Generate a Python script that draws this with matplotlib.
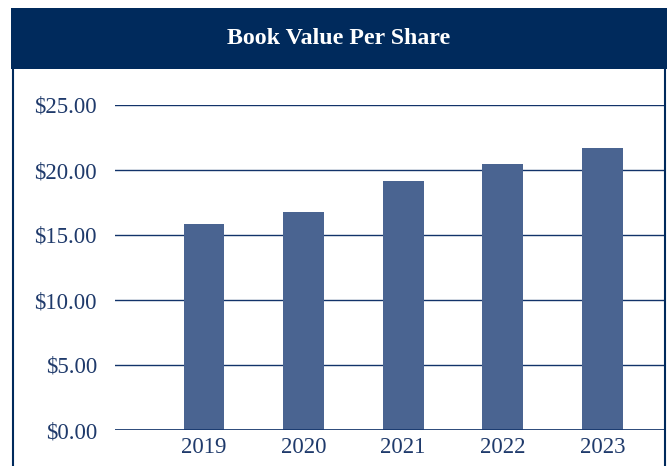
import matplotlib
matplotlib.use("Agg")
import matplotlib.pyplot as plt
from matplotlib.patches import Rectangle
from matplotlib.lines import Line2D

years = ["2019", "2020", "2021", "2022", "2023"]
values = [15.85, 16.77, 19.15, 20.46, 21.69]
yticks = [0, 5, 10, 15, 20, 25]
ytick_labels = ["$0.00", "$5.00", "$10.00", "$15.00", "$20.00", "$25.00"]
title = "Book Value Per Share"

W, H = 671, 466
fig = plt.figure(figsize=(W / 100, H / 100), dpi=100)
fig.patch.set_facecolor("white")

navy = "#002A5C"
text_col = "#1F3A6B"
bar_col = "#4A6491"

def fx(px):
    return px / W

def fy(py):
    return 1 - py / H

# header
fig.patches.append(Rectangle((fx(11), fy(69)), fx(667) - fx(11), fy(8) - fy(69),
                             transform=fig.transFigure, facecolor=navy, edgecolor="none"))
fig.text(fx(339), fy(39), title, ha="center", va="center", color="white",
         fontsize=17.2, fontweight="bold", family="Liberation Serif")
# borders
for x in (12.5, 665):
    fig.lines.append(Line2D([fx(x), fx(x)], [fy(69), 0], transform=fig.transFigure,
                            color=navy, lw=1.5))

ax = fig.add_axes([fx(115), fy(430), fx(665) - fx(115), fy(105) - fy(430)])
x = list(range(len(years)))
ax.bar(x, values, width=0.41, color=bar_col, zorder=3)
ax.set_ylim(0, 25)
ax.set_xlim(-0.894, 4.63)
ax.set_yticks(yticks)
ax.set_yticklabels(ytick_labels)
ax.set_xticks(x)
ax.set_xticklabels(years)
for sp in ax.spines.values():
    sp.set_visible(False)
ax.grid(axis="y", color="#12336A", lw=1.0, zorder=1)
ax.axhline(0, color="#12336A", lw=1.2, zorder=4)
ax.tick_params(axis="both", length=0, labelcolor=text_col, labelsize=16.5)
ax.tick_params(axis="y", pad=13)
ax.tick_params(axis="x", pad=5)
for lab in ax.get_xticklabels() + ax.get_yticklabels():
    lab.set_family("Liberation Serif")
ax.set_facecolor("none")

fig.savefig("out.png", dpi=100)
